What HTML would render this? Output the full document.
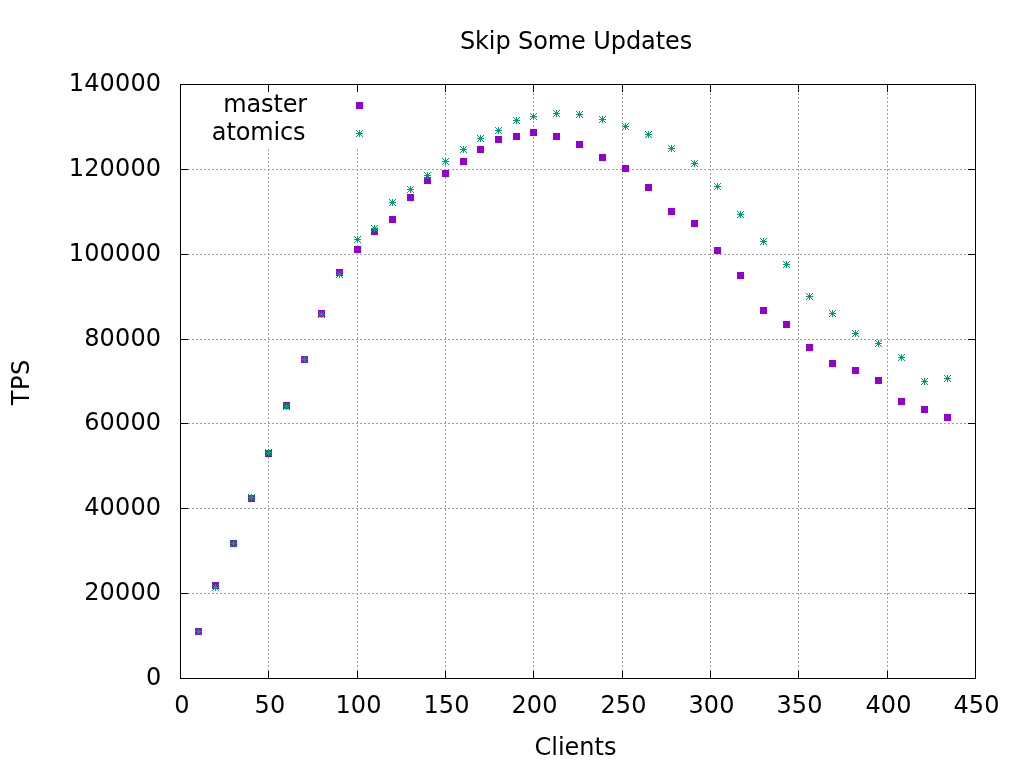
<!DOCTYPE html>
<html lang="en">
<head>
<meta charset="utf-8">
<title>Skip Some Updates</title>
<style>
html,body{margin:0;padding:0;background:#fff;}
body{width:1024px;height:768px;overflow:hidden;}
svg{display:block;}
text{font-family:"DejaVu Sans","Liberation Sans",sans-serif;font-size:24px;fill:#000;}
</style>
</head>
<body>
<svg width="1024" height="768" viewBox="0 0 1024 768">
<defs>
<g id="sq"><rect x="-3.5" y="-3.5" width="7" height="7" fill="#9400d3"/></g>
<g id="st" fill="#009e73"><rect x="-3.5" y="-0.5" width="7" height="1"/><rect x="-0.5" y="-3.5" width="1" height="7"/><rect x="-1.5" y="-1.5" width="3" height="3"/><rect x="-3.5" y="-3.5" width="1" height="1"/><rect x="-2.5" y="-2.5" width="1" height="1"/><rect x="2.5" y="-3.5" width="1" height="1"/><rect x="1.5" y="-2.5" width="1" height="1"/><rect x="-3.5" y="2.5" width="1" height="1"/><rect x="-2.5" y="1.5" width="1" height="1"/><rect x="2.5" y="2.5" width="1" height="1"/><rect x="1.5" y="1.5" width="1" height="1"/></g>
</defs>
<rect x="0" y="0" width="1024" height="768" fill="#fff"/>

<g stroke="#a0a0a0" stroke-width="1" stroke-dasharray="2 2" shape-rendering="crispEdges" fill="none">
<path d="M180 593.5H975"/>
<path d="M180 508.5H975"/>
<path d="M180 423.5H975"/>
<path d="M180 339.5H975"/>
<path d="M180 254.5H975"/>
<path d="M180 169.5H975"/>
<path d="M268.5 679V149"/>
<path d="M357.5 679V149"/>
<path d="M445.5 679V84"/>
<path d="M533.5 679V84"/>
<path d="M622.5 679V84"/>
<path d="M710.5 679V84"/>
<path d="M798.5 679V84"/>
<path d="M887.5 679V84"/>
</g>
<g stroke="#000" stroke-width="1" shape-rendering="crispEdges" fill="none">
<path d="M180 593.5H188M976 593.5H968"/>
<path d="M180 508.5H188M976 508.5H968"/>
<path d="M180 423.5H188M976 423.5H968"/>
<path d="M180 339.5H188M976 339.5H968"/>
<path d="M180 254.5H188M976 254.5H968"/>
<path d="M180 169.5H188M976 169.5H968"/>
<path d="M268.5 679V671M268.5 84V92"/>
<path d="M357.5 679V671M357.5 84V92"/>
<path d="M445.5 679V671M445.5 84V92"/>
<path d="M533.5 679V671M533.5 84V92"/>
<path d="M622.5 679V671M622.5 84V92"/>
<path d="M710.5 679V671M710.5 84V92"/>
<path d="M798.5 679V671M798.5 84V92"/>
<path d="M887.5 679V671M887.5 84V92"/>
<rect x="180.5" y="84.5" width="795" height="594"/>
</g>
<g text-anchor="end" letter-spacing="0.15">
<text x="161.3" y="684.5">0</text>
<text x="161.3" y="599.5">20000</text>
<text x="161.3" y="514.5">40000</text>
<text x="161.3" y="429.5">60000</text>
<text x="161.3" y="345.5">80000</text>
<text x="161.3" y="260.5">100000</text>
<text x="161.3" y="175.5">120000</text>
<text x="161.3" y="90.5">140000</text>
</g>
<g text-anchor="middle" letter-spacing="0.15">
<text x="182.0" y="713">0</text>
<text x="270.0" y="713">50</text>
<text x="358.6" y="713">100</text>
<text x="446.6" y="713">150</text>
<text x="534.6" y="713">200</text>
<text x="623.6" y="713">250</text>
<text x="711.6" y="713">300</text>
<text x="799.6" y="713">350</text>
<text x="888.6" y="713">400</text>
<text x="976.6" y="713">450</text>
</g>
<text x="576" y="48.5" text-anchor="middle" letter-spacing="-0.09">Skip Some Updates</text>
<text x="575.5" y="755" text-anchor="middle">Clients</text>
<text transform="translate(29 405.2) rotate(-90)" text-anchor="start" letter-spacing="0.5">TPS</text>
<text x="307" y="111.7" text-anchor="end" letter-spacing="-0.16">master</text>
<text x="305.5" y="140.4" text-anchor="end" letter-spacing="-0.13">atomics</text>
<g shape-rendering="crispEdges">
<use href="#sq" x="359.5" y="105.5"/>
<use href="#sq" x="198.5" y="631.5"/>
<use href="#sq" x="215.5" y="585.5"/>
<use href="#sq" x="233.5" y="543.5"/>
<use href="#sq" x="251.5" y="498.5"/>
<use href="#sq" x="268.5" y="453.5"/>
<use href="#sq" x="286.5" y="405.5"/>
<use href="#sq" x="304.5" y="359.5"/>
<use href="#sq" x="321.5" y="313.5"/>
<use href="#sq" x="339.5" y="272.5"/>
<use href="#sq" x="357.5" y="249.5"/>
<use href="#sq" x="374.5" y="231.5"/>
<use href="#sq" x="392.5" y="219.5"/>
<use href="#sq" x="410.5" y="197.5"/>
<use href="#sq" x="427.5" y="180.5"/>
<use href="#sq" x="445.5" y="173.5"/>
<use href="#sq" x="463.5" y="161.5"/>
<use href="#sq" x="480.5" y="149.5"/>
<use href="#sq" x="498.5" y="139.5"/>
<use href="#sq" x="516.5" y="136.5"/>
<use href="#sq" x="533.5" y="132.5"/>
<use href="#sq" x="556.5" y="136.5"/>
<use href="#sq" x="579.5" y="144.5"/>
<use href="#sq" x="602.5" y="157.5"/>
<use href="#sq" x="625.5" y="168.5"/>
<use href="#sq" x="648.5" y="187.5"/>
<use href="#sq" x="671.5" y="211.5"/>
<use href="#sq" x="694.5" y="223.5"/>
<use href="#sq" x="717.5" y="250.5"/>
<use href="#sq" x="740.5" y="275.5"/>
<use href="#sq" x="763.5" y="310.5"/>
<use href="#sq" x="786.5" y="324.5"/>
<use href="#sq" x="809.5" y="347.5"/>
<use href="#sq" x="832.5" y="363.5"/>
<use href="#sq" x="855.5" y="370.5"/>
<use href="#sq" x="878.5" y="380.5"/>
<use href="#sq" x="901.5" y="401.5"/>
<use href="#sq" x="924.5" y="409.5"/>
<use href="#sq" x="947.5" y="417.5"/>
<use href="#st" x="359.5" y="133.5"/>
<use href="#st" x="198.5" y="631.5"/>
<use href="#st" x="215.5" y="587.5"/>
<use href="#st" x="233.5" y="543.5"/>
<use href="#st" x="251.5" y="497.5"/>
<use href="#st" x="268.5" y="452.5"/>
<use href="#st" x="286.5" y="406.5"/>
<use href="#st" x="304.5" y="359.5"/>
<use href="#st" x="321.5" y="314.5"/>
<use href="#st" x="339.5" y="274.5"/>
<use href="#st" x="357.5" y="239.5"/>
<use href="#st" x="374.5" y="228.5"/>
<use href="#st" x="392.5" y="202.5"/>
<use href="#st" x="410.5" y="189.5"/>
<use href="#st" x="427.5" y="175.5"/>
<use href="#st" x="445.5" y="161.5"/>
<use href="#st" x="463.5" y="149.5"/>
<use href="#st" x="480.5" y="138.5"/>
<use href="#st" x="498.5" y="130.5"/>
<use href="#st" x="516.5" y="120.5"/>
<use href="#st" x="533.5" y="116.5"/>
<use href="#st" x="556.5" y="113.5"/>
<use href="#st" x="579.5" y="114.5"/>
<use href="#st" x="602.5" y="119.5"/>
<use href="#st" x="625.5" y="126.5"/>
<use href="#st" x="648.5" y="134.5"/>
<use href="#st" x="671.5" y="148.5"/>
<use href="#st" x="694.5" y="163.5"/>
<use href="#st" x="717.5" y="186.5"/>
<use href="#st" x="740.5" y="214.5"/>
<use href="#st" x="763.5" y="241.5"/>
<use href="#st" x="786.5" y="264.5"/>
<use href="#st" x="809.5" y="296.5"/>
<use href="#st" x="832.5" y="313.5"/>
<use href="#st" x="855.5" y="333.5"/>
<use href="#st" x="878.5" y="343.5"/>
<use href="#st" x="901.5" y="357.5"/>
<use href="#st" x="924.5" y="381.5"/>
<use href="#st" x="947.5" y="378.5"/>
</g>
</svg>
</body>
</html>
